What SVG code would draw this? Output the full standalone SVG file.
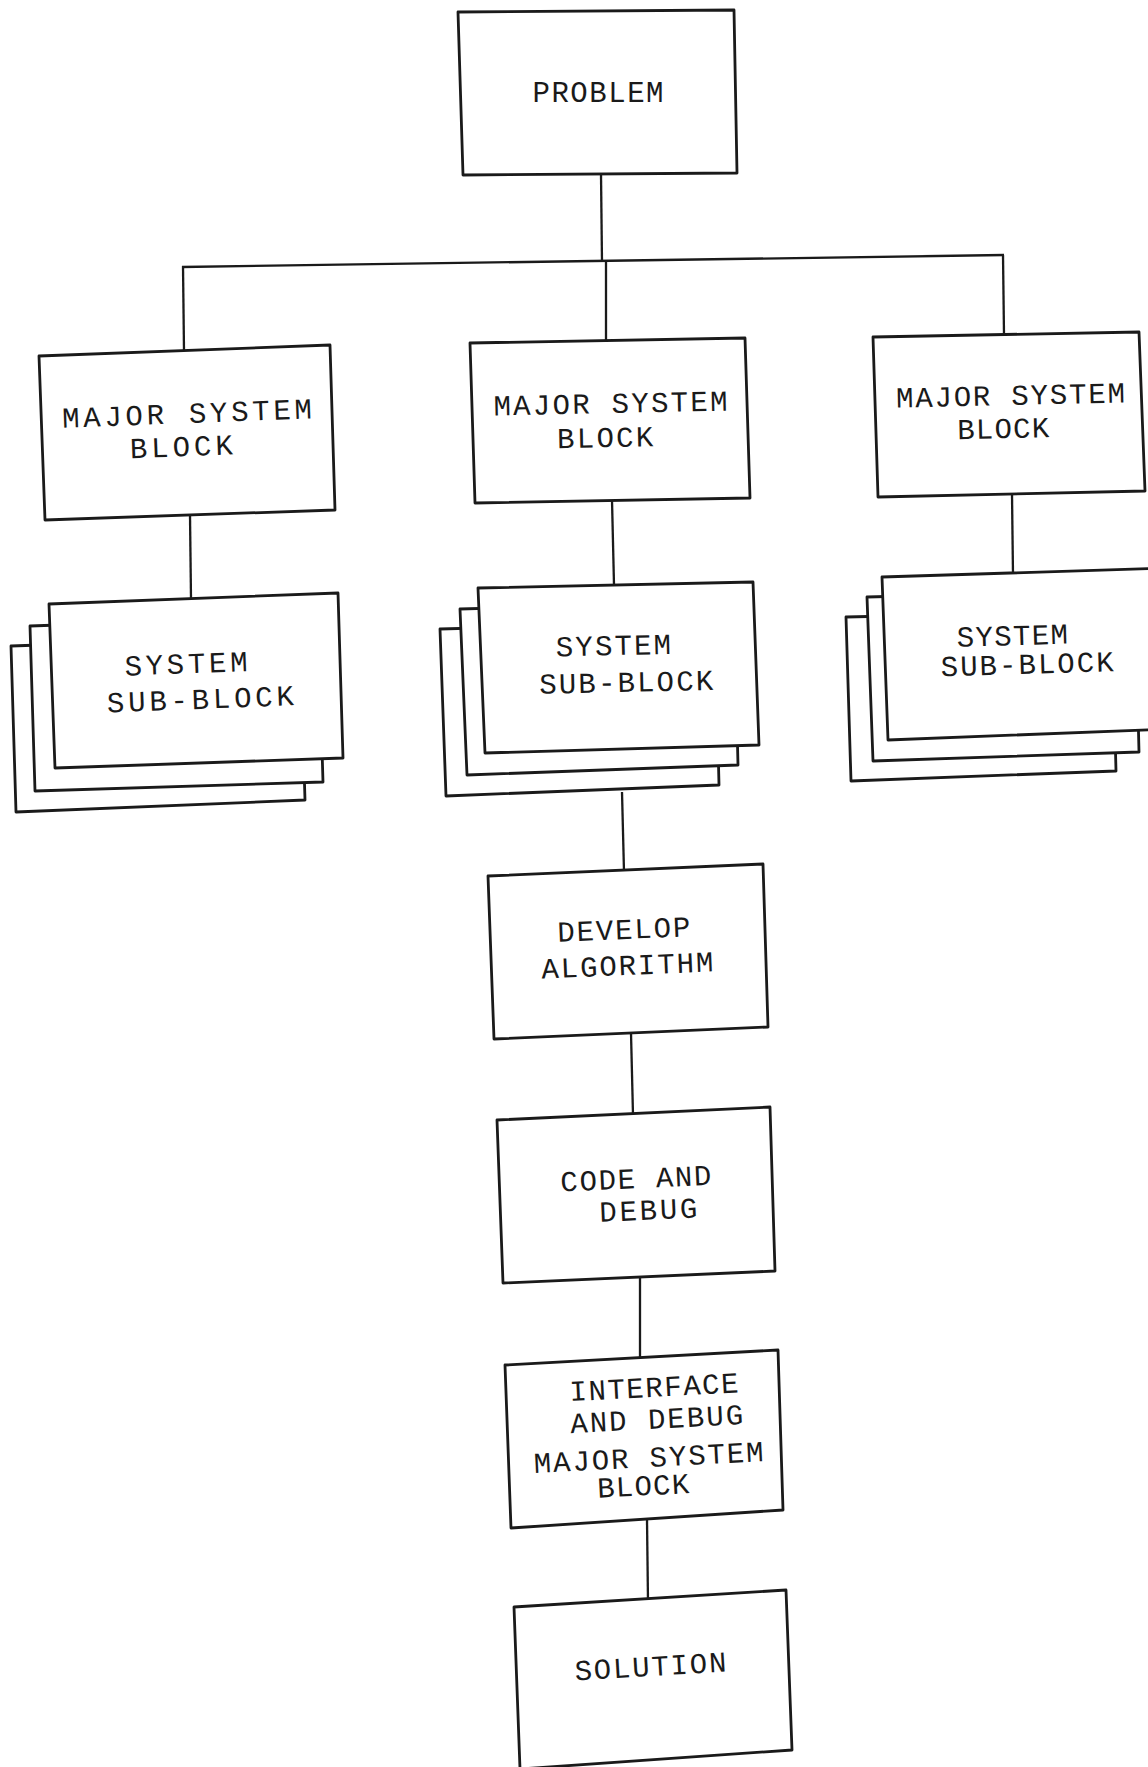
<svg xmlns="http://www.w3.org/2000/svg" width="1148" height="1767" viewBox="0 0 1148 1767">
<style>
.box{fill:#fff;stroke:#1a1a1a;stroke-width:2.8;stroke-linejoin:round}
.ln{stroke:#1a1a1a;stroke-width:2.3;fill:none}
.t{font-family:"Liberation Mono","DejaVu Sans Mono",monospace;font-size:29px;fill:#1a1a1a;text-anchor:middle}
</style>
<rect width="1148" height="1767" fill="#fff"/>
<g id="connectors">
<line class="ln" x1="601" y1="174" x2="602" y2="262"/>
<line class="ln" x1="182" y1="267" x2="1004" y2="255"/>
<line class="ln" x1="183" y1="266" x2="184" y2="351"/>
<line class="ln" x1="606" y1="261" x2="606" y2="341"/>
<line class="ln" x1="1003" y1="255" x2="1004" y2="335"/>
<line class="ln" x1="190" y1="515" x2="191" y2="599"/>
<line class="ln" x1="612" y1="500" x2="614" y2="585"/>
<line class="ln" x1="1012" y1="494" x2="1013" y2="575"/>
<line class="ln" x1="622" y1="792" x2="624" y2="872"/>
<line class="ln" x1="631" y1="1033" x2="633" y2="1115"/>
<line class="ln" x1="640" y1="1277" x2="640" y2="1359"/>
<line class="ln" x1="647" y1="1520" x2="648" y2="1601"/>
</g>
<g id="problem">
<polygon class="box" points="458,12 734,10 737,173 463,175"/>
<text class="t" x="598" y="102" textLength="131" lengthAdjust="spacing">PROBLEM</text>
</g>
<g id="major1">
<polygon class="box" points="39,356 330,345 335,510 45,520"/>
<g transform="rotate(-2.2 188 440)">
<text class="t" x="188" y="423" textLength="250" lengthAdjust="spacing">MAJOR SYSTEM</text>
<text class="t" x="181" y="456" textLength="103" lengthAdjust="spacing">BLOCK</text>
</g>
</g>
<g id="major2">
<polygon class="box" points="470,343 745,338 750,498 475,503"/>
<g transform="rotate(-1.2 611 430)">
<text class="t" x="611" y="413" textLength="234" lengthAdjust="spacing">MAJOR SYSTEM</text>
<text class="t" x="605" y="447" textLength="96" lengthAdjust="spacing">BLOCK</text>
</g>
</g>
<g id="major3">
<polygon class="box" points="873,337 1139,332 1145,491 878,497"/>
<g transform="rotate(-1.3 1011 420)">
<text class="t" x="1011" y="405" textLength="229" lengthAdjust="spacing">MAJOR SYSTEM</text>
<text class="t" x="1003" y="438" textLength="92" lengthAdjust="spacing">BLOCK</text>
</g>
</g>
<g id="sub1">
<polygon class="box" points="11,646 300,636 305,800 16,812"/>
<polygon class="box" points="30,626 318,616 323,782 35,791"/>
<polygon class="box" points="49,604 338,593 343,758 55,768"/>
<g transform="rotate(-2.2 195 690)">
<text class="t" x="187" y="673" textLength="123" lengthAdjust="spacing">SYSTEM</text>
<text class="t" x="200" y="709" textLength="187" lengthAdjust="spacing">SUB-BLOCK</text>
</g>
</g>
<g id="sub2">
<polygon class="box" points="440,629 715,622 719,785 446,796"/>
<polygon class="box" points="460,609 734,602 738,765 467,775"/>
<polygon class="box" points="478,588 753,582 759,745 485,753"/>
<g transform="rotate(-1.3 620 673)">
<text class="t" x="614" y="655" textLength="115" lengthAdjust="spacing">SYSTEM</text>
<text class="t" x="626" y="692" textLength="174" lengthAdjust="spacing">SUB-BLOCK</text>
</g>
</g>
<g id="sub3">
<polygon class="box" points="846,617 1112,611 1116,771 851,781"/>
<polygon class="box" points="867,597 1135,590 1139,752 873,761"/>
<polygon class="box" points="882,577 1170,568 1170,729 888,740"/>
<g transform="rotate(-1.7 1020 660)">
<text class="t" x="1013" y="645" textLength="111" lengthAdjust="spacing">SYSTEM</text>
<text class="t" x="1027" y="674" textLength="173" lengthAdjust="spacing">SUB-BLOCK</text>
</g>
</g>
<g id="develop">
<polygon class="box" points="488,876 763,864 768,1027 494,1039"/>
<g transform="rotate(-2.4 626 957)">
<text class="t" x="625" y="939" textLength="133" lengthAdjust="spacing">DEVELOP</text>
<text class="t" x="627" y="975" textLength="172" lengthAdjust="spacing">ALGORITHM</text>
</g>
</g>
<g id="code">
<polygon class="box" points="497,1120 770,1107 775,1271 503,1283"/>
<g transform="rotate(-2.6 640 1204)">
<text class="t" x="637" y="1188" textLength="151" lengthAdjust="spacing">CODE AND</text>
<text class="t" x="648" y="1220" textLength="98" lengthAdjust="spacing">DEBUG</text>
</g>
</g>
<g id="interface">
<polygon class="box" points="505,1365 778,1350 783,1510 511,1528"/>
<g transform="rotate(-3 650 1445)">
<text class="t" x="657" y="1397" textLength="169" lengthAdjust="spacing">INTERFACE</text>
<text class="t" x="658" y="1429" textLength="173" lengthAdjust="spacing">AND DEBUG</text>
<text class="t" x="648" y="1467" textLength="230" lengthAdjust="spacing">MAJOR SYSTEM</text>
<text class="t" x="641" y="1495" textLength="92" lengthAdjust="spacing">BLOCK</text>
</g>
</g>
<g id="solution">
<polygon class="box" points="514,1607 786,1590 792,1750 520,1769"/>
<g transform="rotate(-3.4 651 1676)">
<text class="t" x="651" y="1676" textLength="152" lengthAdjust="spacing">SOLUTION</text>
</g>
</g>
</svg>
